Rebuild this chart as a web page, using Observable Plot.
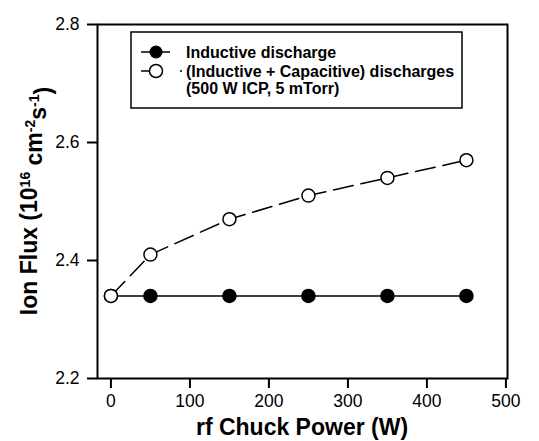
<!DOCTYPE html>
<html><head><meta charset="utf-8">
<script src="https://cdn.jsdelivr.net/npm/d3@7"></script>
<script src="https://cdn.jsdelivr.net/npm/@observablehq/plot@0.6"></script>
<style>body{margin:0;background:#fff}</style>
</head><body>
<div id="chart"></div>
<script>
const power = [0, 50, 150, 250, 350, 450];
const inductive = [2.34, 2.34, 2.34, 2.34, 2.34, 2.34];
const combined = [2.34, 2.41, 2.47, 2.51, 2.54, 2.57];
const xTicks = [0, 100, 200, 300, 400, 500];
const yTicks = [2.2, 2.4, 2.6, 2.8];
const seriesNames = ["Inductive discharge", "(Inductive + Capacitive) discharges", "(500 W ICP, 5 mTorr)"];

const indData = power.map((p, i) => ({x: p, y: inductive[i]}));
const combData = power.map((p, i) => ({x: p, y: combined[i]}));
const font = "'Liberation Sans', Arial, Helvetica, sans-serif";

const chart = Plot.plot({
  width: 539, height: 441,
  marginLeft: 97, marginRight: 32, marginTop: 24, marginBottom: 63,
  style: {fontFamily: font, fontSize: "17px", color: "#000", background: "#fff"},
  x: {domain: [-17, 502], label: null},
  y: {domain: [2.2, 2.8], label: null},
  marks: [
    Plot.frame({stroke: "#000", strokeWidth: 2}),
    Plot.axisX({ticks: xTicks, tickSize: 10, tickPadding: 6, strokeWidth: 2, label: null, fontSize: 17.5}),
    Plot.axisY({ticks: yTicks, tickSize: 10, tickPadding: 8, strokeWidth: 2, label: null, fontSize: 17.5, tickFormat: d => d.toFixed(1)}),
    Plot.line(indData, {x: "x", y: "y", stroke: "#000", strokeWidth: 1.5}),
    Plot.line(combData, {x: "x", y: "y", stroke: "#000", strokeWidth: 1.5, strokeDasharray: "20,8"}),
    Plot.dot(indData, {x: "x", y: "y", r: 6.5, fill: "#000", stroke: "#000"}),
    Plot.dot(combData, {x: "x", y: "y", r: 6.5, fill: "#fff", stroke: "#000", strokeWidth: 1.5})
  ]
});
document.getElementById("chart").appendChild(chart);

const svg = d3.select(chart);
// axis titles
svg.append("text")
  .attr("x", 302).attr("y", 435)
  .attr("text-anchor", "middle")
  .style("font", `bold 23px ${font}`)
  .text("rf Chuck Power (W)");

const yt = svg.append("text")
  .attr("transform", "translate(37,201) rotate(-90)")
  .attr("text-anchor", "middle")
  .style("font", `bold 23px ${font}`);
yt.append("tspan").text("Ion Flux (10");
yt.append("tspan").attr("dy", "-0.5em").style("font-size", "14px").text("16");
yt.append("tspan").attr("dy", "0.5em").text(" cm");
yt.append("tspan").attr("dy", "-0.5em").style("font-size", "14px").text("-2");
yt.append("tspan").attr("dy", "0.5em").text("s");
yt.append("tspan").attr("dy", "-0.5em").style("font-size", "14px").text("-1");
yt.append("tspan").attr("dy", "0.5em").text(")");

// legend
const lg = svg.append("g").attr("text-anchor", "start");
lg.append("rect").attr("x", 131).attr("y", 32).attr("width", 331).attr("height", 76)
  .attr("fill", "#fff").attr("stroke", "#000").attr("stroke-width", 1.5);
lg.append("line").attr("x1", 141).attr("x2", 170).attr("y1", 52).attr("y2", 52).attr("stroke", "#000").attr("stroke-width", 1.5);
lg.append("circle").attr("cx", 156).attr("cy", 52).attr("r", 6.5).attr("fill", "#000");
lg.append("line").attr("x1", 141).attr("x2", 149).attr("y1", 71).attr("y2", 71).attr("stroke", "#000").attr("stroke-width", 1.5);
lg.append("line").attr("x1", 180).attr("x2", 182).attr("y1", 71).attr("y2", 71).attr("stroke", "#000").attr("stroke-width", 1.5);
lg.append("circle").attr("cx", 156).attr("cy", 71).attr("r", 6.5).attr("fill", "#fff").attr("stroke", "#000").attr("stroke-width", 1.5);
const ty = [58, 77, 94];
seriesNames.forEach((t, i) => {
  lg.append("text").attr("x", 186).attr("y", ty[i]).attr("text-anchor", "start")
    .style("font", `bold 16px ${font}`).text(t);
});
</script>
</body></html>
